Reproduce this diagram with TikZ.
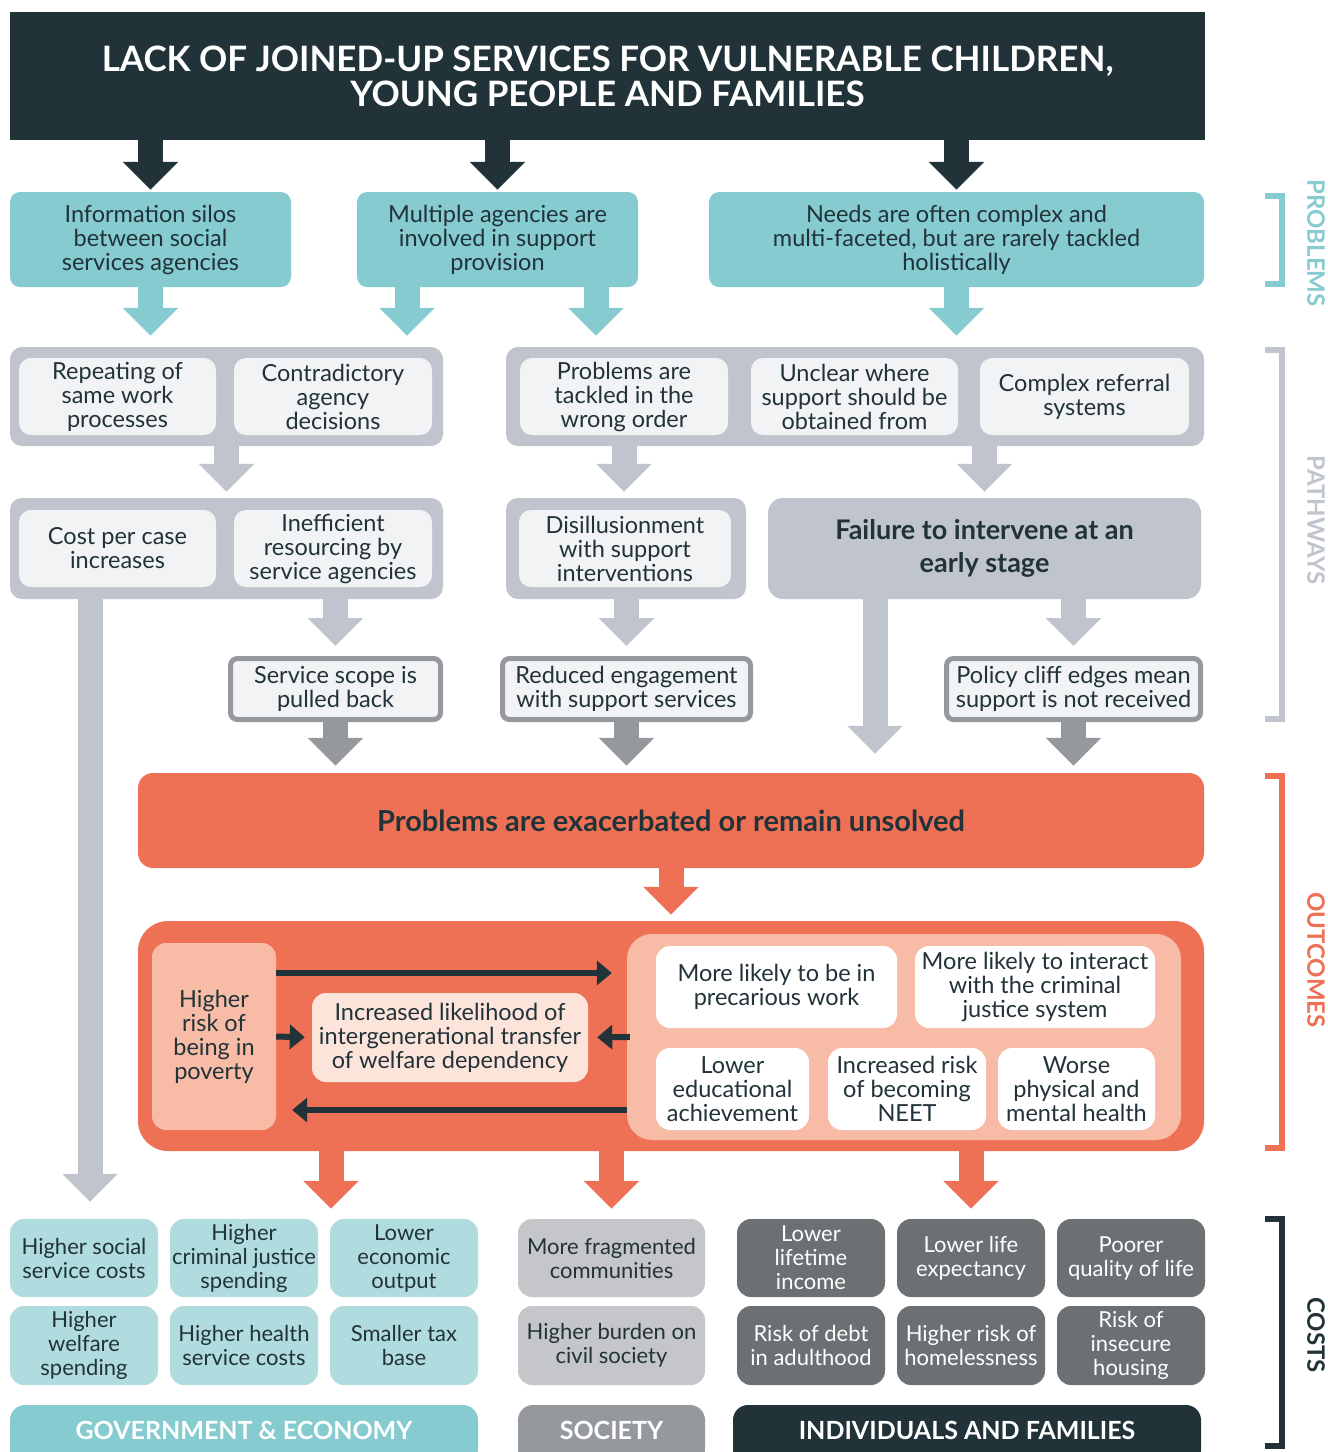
\documentclass[tikz,border=0pt]{standalone}
\usepackage{fontspec}
\setmainfont{Lato}
\usetikzlibrary{arrows.meta}
\definecolor{cDark}{RGB}{33,51,56}
\definecolor{cTeal}{RGB}{133,203,207}
\definecolor{cTealL}{RGB}{176,220,223}
\definecolor{cGrayC}{RGB}{191,196,205}
\definecolor{cGrayIn}{RGB}{242,243,245}
\definecolor{cGrayB}{RGB}{149,152,156}
\definecolor{cOr}{RGB}{238,113,85}
\definecolor{cSal}{RGB}{247,187,166}
\definecolor{cPeach}{RGB}{252,228,218}
\definecolor{cSoc}{RGB}{197,198,202}
\definecolor{cInd}{RGB}{107,112,115}
\newcommand\bx[7]{\node[#6,minimum width={(#4)-(#2)},minimum height={(#5)-(#3)}] (#1) at ({((#2)+(#4))/2},{((#3)+(#5))/2}) {#7};}
\begin{document}
\begin{tikzpicture}[x=1pt,y=-1pt,
  bb/.style={rectangle,inner sep=0pt,align=center,text=cDark,font=\fontsize{23.5}{24}\selectfont},
  ttl/.style={bb,fill=cDark,text=white,font=\fontsize{35}{35}\selectfont\bfseries},
  tbox/.style={bb,fill=cTeal,rounded corners=10pt},
  gcont/.style={bb,fill=cGrayC,rounded corners=12pt},
  gin/.style={bb,fill=cGrayIn,rounded corners=12pt},
  gbord/.style={bb,fill=cGrayIn,draw=cGrayB,line width=5pt,rounded corners=7pt},
  gbold/.style={bb,fill=cGrayC,rounded corners=15pt,font=\fontsize{27}{33}\selectfont\bfseries},
  obold/.style={bb,fill=cOr,rounded corners=15pt,font=\fontsize{29}{30}\selectfont\bfseries},
  obig/.style={bb,fill=cOr,rounded corners=30pt},
  osal/.style={bb,fill=cSal,rounded corners=14pt},
  ocont/.style={bb,fill=cSal,rounded corners=25pt},
  opeach/.style={bb,fill=cPeach,rounded corners=14pt},
  owhite/.style={bb,fill=white,rounded corners=14pt},
  kbase/.style={bb,rounded corners=14pt,font=\fontsize{22}{24}\selectfont},
  ktl/.style={kbase,fill=cTealL},
  ksoc/.style={kbase,fill=cSoc},
  kind/.style={kbase,fill=cInd,text=white},
  lbl/.style={bb,text=white,rounded corners=15pt,text depth=10pt,font=\fontsize{25}{28}\selectfont\bfseries},
  sidelbl/.style={inner sep=0pt,font=\fontsize{24}{28}\selectfont\bfseries,rotate=-90},
  fat/.style={line width=25pt,-{Triangle[width=54pt,length=28pt]}},
  thinarr/.style={cDark,line width=6pt,-{Triangle[width=24pt,length=15pt]}}
]
\clip (0,0) rectangle (1328,1452);
\fill[white] (0,0) rectangle (1328,1452);

% title
\bx{title}{10}{12}{1205}{140}{ttl}{LACK OF JOINED-UP SERVICES FOR VULNERABLE CHILDREN,\\YOUNG PEOPLE AND FAMILIES}

% problems
\bx{p1}{10}{192}{291}{287}{tbox}{Information silos\\between social\\services agencies}
\bx{p2}{357}{192}{638}{287}{tbox}{Multiple agencies are\\involved in support\\provision}
\bx{p3}{709}{192}{1204}{287}{tbox}{Needs are often complex and\\multi-faceted, but are rarely tackled\\holistically}

% pathways row 1
\bx{g1}{10}{347}{443}{446}{gcont}{}
\bx{a1}{19}{358}{216}{435}{gin}{Repeating of\\same work\\processes}
\bx{a2}{234}{358}{432}{435}{gin}{Contradictory\\agency\\decisions}
\bx{g2}{506}{347}{1204}{446}{gcont}{}
\bx{b1}{520}{358}{728}{435}{gin}{Problems are\\tackled in the\\wrong order}
\bx{b2}{751}{358}{958}{435}{gin}{Unclear where\\support should be\\obtained from}
\bx{b3}{980}{358}{1189}{435}{gin}{Complex referral\\systems}

% pathways row 2
\bx{g3}{10}{498}{443}{599}{gcont}{}
\bx{c1}{19}{510}{216}{587}{gin}{Cost per case\\increases}
\bx{c2}{234}{510}{432}{587}{gin}{Inefficient\\resourcing by\\service agencies}
\bx{g4}{506}{498}{746}{599}{gcont}{}
\bx{d1}{519}{510}{731}{587}{gin}{Disillusionment\\with support\\interventions}
\bx{fail}{768}{498}{1201}{599}{gbold}{Failure to intervene at an\\early stage}

% pathways row 3
\bx{e1}{230.5}{658.5}{440.5}{719.5}{gbord}{Service scope is\\pulled back}
\bx{e2}{502.5}{658.5}{750.5}{719.5}{gbord}{Reduced engagement\\with support services}
\bx{e3}{946.5}{658.5}{1200.5}{719.5}{gbord}{Policy cliff edges mean\\support is not received}

% outcomes
\bx{prob}{138}{773}{1204}{868}{obold}{Problems are exacerbated or remain unsolved}
\bx{out}{138}{921}{1204}{1151}{obig}{}
\bx{pov}{152}{943}{276}{1130}{osal}{Higher\\risk of\\being in\\poverty}
\bx{inter}{312}{993}{588}{1082}{opeach}{Increased likelihood of\\intergenerational transfer\\of welfare dependency}
\bx{rc}{627}{934}{1181}{1140}{ocont}{}
\bx{o1}{656}{946}{897}{1028}{owhite}{More likely to be in\\precarious work}
\bx{o2}{915}{946}{1155}{1028}{owhite}{More likely to interact\\with the criminal\\justice system}
\bx{o3}{656}{1048}{809}{1130}{owhite}{Lower\\educational\\achievement}
\bx{o4}{828}{1048}{986}{1130}{owhite}{Increased risk\\of becoming\\NEET}
\bx{o5}{998}{1048}{1155}{1130}{owhite}{Worse\\physical and\\mental health}

% costs
\bx{k1}{10}{1219}{158}{1297}{ktl}{Higher social\\service costs}
\bx{k2}{170}{1219}{318}{1297}{ktl}{Higher\\criminal justice\\spending}
\bx{k3}{330}{1219}{478}{1297}{ktl}{Lower\\economic\\output}
\bx{k4}{10}{1306}{158}{1385}{ktl}{Higher\\welfare\\spending}
\bx{k5}{170}{1306}{318}{1385}{ktl}{Higher health\\service costs}
\bx{k6}{330}{1306}{478}{1385}{ktl}{Smaller tax\\base}
\bx{s1}{518}{1219}{705}{1297}{ksoc}{More fragmented\\communities}
\bx{s2}{518}{1306}{705}{1385}{ksoc}{Higher burden on\\civil society}
\bx{i1}{737}{1219}{885}{1297}{kind}{Lower\\lifetime\\income}
\bx{i2}{897}{1219}{1045}{1297}{kind}{Lower life\\expectancy}
\bx{i3}{1057}{1219}{1205}{1297}{kind}{Poorer\\quality of life}
\bx{i4}{737}{1306}{885}{1385}{kind}{Risk of debt\\in adulthood}
\bx{i5}{897}{1306}{1045}{1385}{kind}{Higher risk of\\homelessness}
\bx{i6}{1057}{1306}{1205}{1385}{kind}{Risk of\\insecure\\housing}

\bx{gov}{10}{1405}{478}{1465}{lbl,fill=cTeal}{GOVERNMENT \& ECONOMY}
\bx{soc}{518}{1405}{705}{1465}{lbl,fill=cGrayB}{SOCIETY}
\bx{ind}{733}{1405}{1201}{1465}{lbl,fill=cDark}{INDIVIDUALS AND FAMILIES}

% helper coordinates
\coordinate (xL) at (90,0);
\coordinate (xF) at (875,0);
\coordinate (xO1) at (331,0);
\coordinate (xT1) at (407,0);
\coordinate (xT2) at (596,0);

% dark arrows
\draw[fat,cDark,shorten >=2pt] (title.south -| p1.north) -- (p1.north);
\draw[fat,cDark,shorten >=2pt] (title.south -| p2.north) -- (p2.north);
\draw[fat,cDark,shorten >=2pt] (title.south -| p3.north) -- (p3.north);
% teal arrows
\draw[fat,cTeal,shorten >=11pt] (p1.south) -- (p1.south |- g1.north);
\draw[fat,cTeal,shorten >=11pt] (p2.south -| xT1) -- (g1.north -| xT1);
\draw[fat,cTeal,shorten >=11pt] (p2.south -| xT2) -- (g2.north -| xT2);
\draw[fat,cTeal,shorten >=11pt] (p3.south) -- (p3.south |- g2.north);
% gray arrows
\draw[fat,cGrayC,shorten >=6pt] (g1.south) -- (g1.south |- g3.north);
\draw[fat,cGrayC,shorten >=6pt] (b1 |- g2.south) -- (b1 |- g4.north);
\draw[fat,cGrayC,shorten >=6pt] (fail.north |- g2.south) -- (fail.north);
\draw[fat,cGrayC,shorten >=10pt] (e1.north |- g3.south) -- (e1.north);
\draw[fat,cGrayC,shorten >=10pt] (e2.north |- g4.south) -- (e2.north);
\draw[fat,cGrayC,shorten >=10pt] (e3.north |- fail.south) -- (e3.north);
\draw[fat,cGrayC,shorten >=17pt] (g3.south -| xL) -- (k1.north -| xL);
\draw[fat,cGrayC,shorten >=19pt] (fail.south -| xF) -- (prob.north -| xF);
% dark gray arrows
\draw[fat,cGrayB,shorten >=7pt] (e1.south) -- (e1.south |- prob.north);
\draw[fat,cGrayB,shorten >=7pt] (e2.south) -- (e2.south |- prob.north);
\draw[fat,cGrayB,shorten >=7pt] (e3.south) -- (e3.south |- prob.north);
% orange arrows
\draw[fat,cOr,shorten >=6pt] (prob.south) -- (out.north);
\draw[fat,cOr,shorten >=10pt] (out.south -| xO1) -- (k3.north -| xO1);
\draw[fat,cOr,shorten >=10pt] (out.south -| s1.north) -- (s1.north);
\draw[fat,cOr,shorten >=10pt] (out.south -| i2.north) -- (i2.north);
% inner cycle arrows
\coordinate (t1) at ([yshift=63.5pt]pov.east);
\coordinate (t2) at ([yshift=-73pt]rc.west);
\draw[thinarr,shorten >=15pt] (t1) -- (t1 -| rc.west);
\draw[thinarr,shorten >=7pt] (pov.east) -- (inter.west);
\draw[thinarr,shorten >=9pt,shorten <=-3pt] (rc.west) -- (inter.east);
\draw[thinarr,shorten >=16pt] (t2) -- (t2 -| pov.east);

% side brackets
\draw[cTeal,line width=6pt] (1265,196) -- (1282,196) -- (1282,284) -- (1265,284);
\draw[cGrayC,line width=6pt] (1265,350) -- (1282,350) -- (1282,719) -- (1265,719);
\draw[cOr,line width=6pt] (1265,776) -- (1282,776) -- (1282,1148) -- (1265,1148);
\draw[cDark,line width=6pt] (1265,1219) -- (1282,1219) -- (1282,1446) -- (1265,1446);
\node[sidelbl,text=cTeal] (lp) at (1316,243) {PROBLEMS};
\node[sidelbl,text=cGrayC] (lw) at (1316,520) {PATHWAYS};
\node[sidelbl,text=cOr] (lo) at (1316,960) {OUTCOMES};
\node[sidelbl,text=cDark] (lc) at (1316,1335) {COSTS};
\end{tikzpicture}
\end{document}
